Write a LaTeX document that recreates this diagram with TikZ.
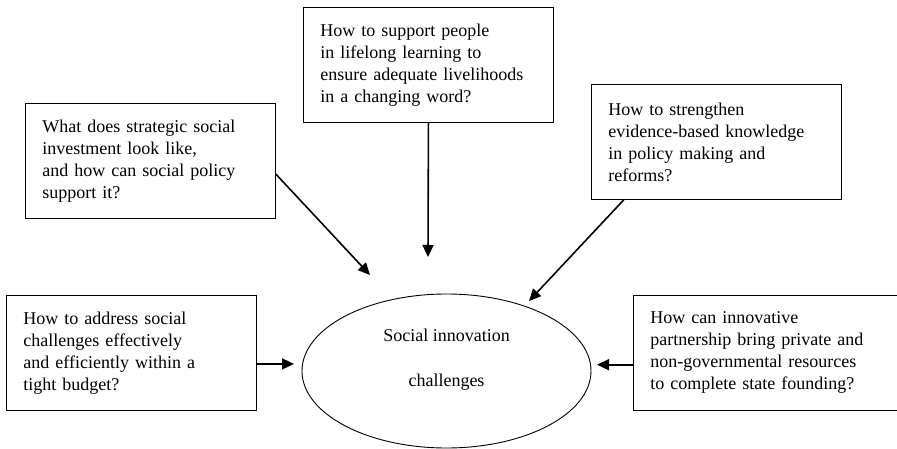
\documentclass[tikz,border=0pt]{standalone}
\usepackage{fontspec}
\setmainfont{Liberation Serif}
\usetikzlibrary{arrows.meta,positioning,shapes.geometric}

\begin{document}
\begin{tikzpicture}[
  x=1pt, y=1pt,
  qbox/.style={rectangle, draw, line width=0.9pt, anchor=north west,
               text width=216pt, inner xsep=17pt, inner ysep=0pt,
               minimum width=250pt, minimum height=115pt,
               font=\fontsize{18}{22}\selectfont, align=left},
  hub/.style={ellipse, draw, line width=0.9pt,
              minimum width=289pt, minimum height=154pt, inner sep=0pt,
              text height=58pt, text depth=28pt,
              font=\fontsize{18}{22}\selectfont, align=center},
  arr/.style={-{Triangle[length=12pt,width=11pt]}, line width=1.6pt}
]
  \useasboundingbox (0,0) rectangle (897,-449);

  % centre
  \node[hub] (hub) at (446.5,-371) {Social innovation\\[23pt]challenges};

  % questions around it
  \node[qbox] (invest) at (25,-103)
    {What does strategic social\\
     investment look like,\\
     and how can social policy\\
     support it?};
  \node[qbox] (learn) at (303,-7)
    {How to support people\\
     in lifelong learning to\\
     ensure adequate livelihoods\\
     in a changing word?};
  \node[qbox] (evid) at (591,-84)
    {How to strengthen\\
     evidence-based knowledge\\
     in policy making and\\
     reforms?};
  \node[qbox] (budget) at (6,-295)
    {How to address social\\
     challenges effectively\\
     and efficiently within a\\
     tight budget?};
  \node[qbox, text width=234pt] (partner) at (633,-295)
    {How can innovative\\
     partnership bring private and\\
     non-governmental resources\\
     to complete state founding?};

  % arrow tips stop short of the ellipse
  \coordinate (t1) at (370,-275);
  \coordinate (t2) at (428,-257);
  \coordinate (t3) at (529,-301);
  \coordinate (t4) at (294,0);
  \coordinate (t5) at (597,0);

  \draw[arr] (invest.-6) -- (t1);
  \draw[arr] (learn.south) -- (t2);
  \draw[arr] (evid.-148) -- (t3);
  \draw[arr] (budget.-5) -- (budget.-5 -| t4);
  \draw[arr] (partner.185) -- (partner.185 -| t5);
\end{tikzpicture}
\end{document}
